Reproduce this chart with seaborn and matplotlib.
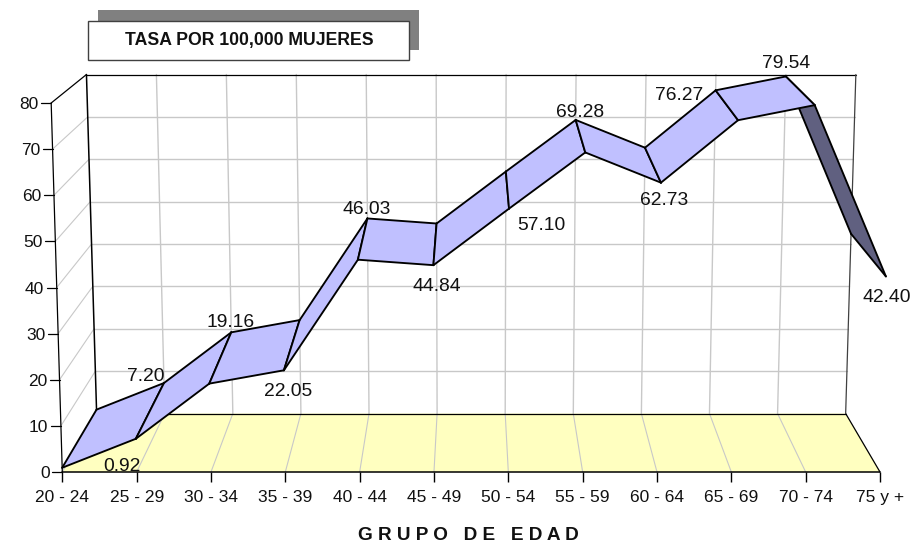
import matplotlib
matplotlib.use("Agg")
import matplotlib.pyplot as plt
from matplotlib.patches import Rectangle
import seaborn as sns

# %%
grupos = ["20 - 24", "25 - 29", "30 - 34", "35 - 39", "40 - 44", "45 - 49",
          "50 - 54", "55 - 59", "60 - 64", "65 - 69", "70 - 74", "75 y +"]
tasas = [0.92, 7.20, 19.16, 22.05, 46.03, 44.84, 57.10, 69.28, 62.73, 76.27, 79.54, 42.40]
y_ticks = [0, 10, 20, 30, 40, 50, 60, 70, 80]

# where each value label sits relative to its front vertex, in pixels
label_dx = [60, 10, 21, 4, 9, 3, 32, -5, 3, -59, -29, 1]
label_dy = [1, 62, 61, -21, 50, -21, -17, 40, -18, 25, 42, -21]

sns.set_theme(style = "white")
plt.rcParams["font.family"] = ["Liberation Sans", "DejaVu Sans"]

RIBBON = "#C0C0FF"
RIBBON_DARK = "#606080"
FLOOR = "#FFFFC0"
GRID = "#C8C8C8"

W, H = 913, 543
fig = plt.figure(figsize = (W / 100, H / 100), dpi = 100, facecolor = "white")
# the axes is the front plane of the old 3D excel box
ax = fig.add_axes([62.3 / W, (H - 472) / H, (880 - 62.3) / W, 369 / H])

n = len(grupos) - 1
mid = n / 2


# perspective: depth 0 = front plane, depth 1 = back wall
def project(i, v, depth):
    spread = (1 + 0.00034 * v) * (1 - 0.084 * depth)
    x = mid + (i - mid) * spread
    y = v * (1 - 0.0813 * depth) + 12.68 * depth
    return x, y


def seg(p, q, color = "black", lw = 1.1, z = 2):
    sns.lineplot(x = [p[0], q[0]], y = [p[1], q[1]], ax = ax, color = color, linewidth = lw,
                 sort = False, estimator = None, legend = False, clip_on = False, zorder = z)


# %%
# floor
corners = [project(0, 0, 0), project(n, 0, 0), project(n, 0, 1), project(0, 0, 1)]
ax.fill([c[0] for c in corners], [c[1] for c in corners], color = FLOOR, lw = 0, clip_on = False, zorder = 1)

# grid: back wall, left wall, floor
for v in y_ticks[1:-1]:
    seg(project(0, v, 1), project(n, v, 1), GRID, 1.0, 1.5)
for v in y_ticks[:-1]:
    seg(project(0, v, 0), project(0, v, 1), GRID, 0.8, 1.5)
for i in range(1, n):
    seg(project(i, 0, 1), project(i, y_ticks[-1], 1), GRID, 1.0, 1.5)
    seg(project(i, 0, 0), project(i, 0, 1), GRID, 0.8, 1.5)

# box outline
vmax = y_ticks[-1]
seg(project(0, 0, 0), project(n, 0, 0))
seg(project(n, 0, 0), project(n, 0, 1), lw = 0.9)
seg(project(0, 0, 1), project(n, 0, 1), lw = 0.9)
seg(project(0, 0, 0), project(0, vmax, 0), lw = 0.9)
seg(project(0, 0, 1), project(0, vmax, 1))
seg(project(0, vmax, 0), project(0, vmax, 1), lw = 0.9)
seg(project(0, vmax, 1), project(n, vmax, 1), lw = 0.9)
seg(project(n, 0, 1), project(n, vmax, 1), "#404040", 0.9)

# %%
# ribbon, last (falling) segment goes first since the others cover it
order = [n - 1] + list(range(n - 1))
for k, i in enumerate(order):
    z = 3 + k * 0.1
    quad = [project(i, tasas[i], 0), project(i + 1, tasas[i + 1], 0),
            project(i + 1, tasas[i + 1], 1), project(i, tasas[i], 1)]
    ax.fill([c[0] for c in quad], [c[1] for c in quad],
            color = RIBBON_DARK if i == n - 1 else RIBBON, lw = 0, clip_on = False, zorder = z)
    for a, b in zip(quad, quad[1:] + quad[:1]):
        seg(a, b, "black", 1.35, z + 0.01)

# value labels
for i, val in enumerate(tasas):
    ax.annotate(f"{val:.2f}", xy = project(i, val, 0), xytext = (label_dx[i], label_dy[i]),
                textcoords = "offset pixels", ha = "center", va = "center", fontsize = 13.9,
                color = "#111111", annotation_clip = False, zorder = 10)

# %%
ax.set_xlim(0, n)
ax.set_ylim(0, vmax)
sns.despine(ax = ax, left = True, bottom = True, top = True, right = True)
ax.patch.set_alpha(0)

ax.set_xticks(range(n + 1), grupos)
ax.tick_params(axis = "x", bottom = True, length = 7, width = 1, color = "black",
               labelsize = 12.5, pad = 6, labelcolor = "#111111")
ax.set_yticks(y_ticks)
ax.tick_params(axis = "y", left = False, length = 0, labelsize = 12.5, pad = 9, labelcolor = "#111111")
# y axis leans outward with height, labels and tick marks follow it
for v, lab in zip(y_ticks, ax.get_yticklabels()):
    lab.set_x(project(0, v, 0)[0] / n)
    x0 = project(0, v, 0)[0]
    seg((x0, v), (x0 - 10 / 74.34, v), "black", 0.9)
ax.set_xlim(0, n)
ax.set_ylim(0, vmax)

ax.set_xlabel("G R U P O   D E   E D A D", fontsize = 13.7, fontweight = "bold", color = "#111111")
ax.xaxis.set_label_coords((468.5 - 62.3) / (880 - 62.3), (472 - 535) / 369, transform = ax.transAxes)
ax.xaxis.label.set_va("center")
ax.set_ylabel("")

# title box with its shadow
fig.add_artist(Rectangle((98 / W, (H - 50) / H), 321 / W, 40 / H, transform = fig.transFigure,
                         facecolor = "#808080", edgecolor = "none"))
fig.add_artist(Rectangle((88 / W, (H - 60) / H), 321 / W, 39 / H, transform = fig.transFigure,
                         facecolor = "white", edgecolor = "#404040", linewidth = 1))
fig.text(249 / W, (H - 41) / H, "TASA POR 100,000 MUJERES", ha = "center", va = "center",
         fontsize = 12.7, fontweight = "bold", color = "#111111")

fig.savefig("out.png", dpi = 100)
